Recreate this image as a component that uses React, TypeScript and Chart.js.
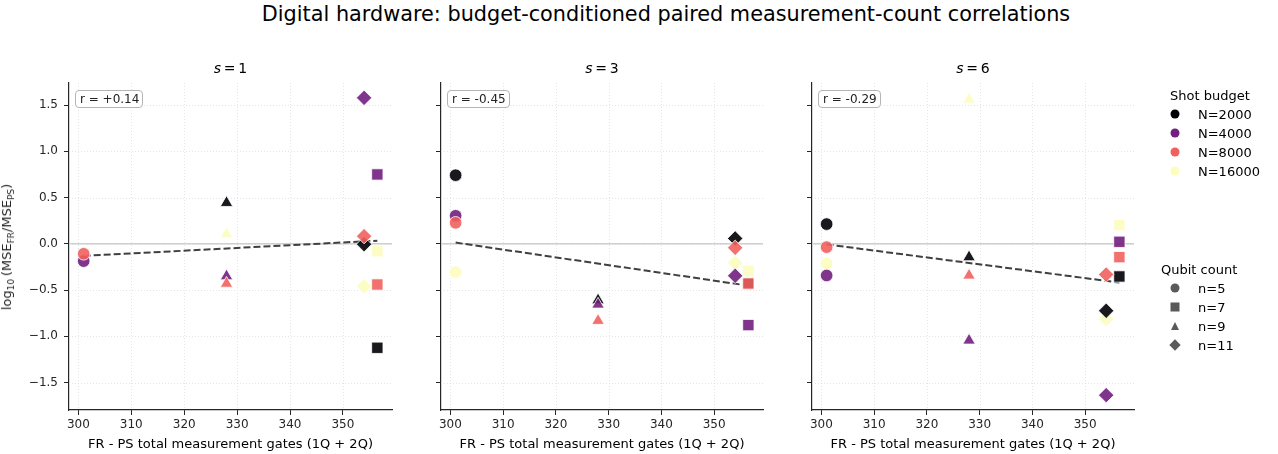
import React, { useEffect, useRef } from 'react';
import { Chart, registerables } from 'chart.js';

Chart.register(...registerables);

const FONT = "'DejaVu Sans', sans-serif";

// ---------- data ----------
const SUPTITLE = 'Digital hardware: budget-conditioned paired measurement-count correlations';
const X_LABEL = 'FR - PS total measurement gates (1Q + 2Q)';
const S_VALUES = [1, 3, 6];
const R_LABELS = ['r = +0.14', 'r = -0.45', 'r = -0.29'];
const BUDGET_LABELS = ['N=2000', 'N=4000', 'N=8000', 'N=16000'];
const QUBIT_LABELS = ['n=5', 'n=7', 'n=9', 'n=11'];
// FR - PS measurement gate difference per qubit count (n=5, 7, 9, 11)
const GATE_DIFF = [301, 356.5, 328, 354];
const X_TICKS = [300, 310, 320, 330, 340, 350];
const Y_TICKS = [-1.5, -1.0, -0.5, 0.0, 0.5, 1.0, 1.5];

// log10(MSE_FR / MSE_PS), indexed by qubit count (n=5, 7, 9, 11)
const S1_N2000 = [null, -1.124, 0.443, -0.004];
const S1_N4000 = [-0.187, 0.75, -0.35, 1.578];
const S1_N8000 = [-0.108, -0.44, -0.43, 0.083];
const S1_N16000 = [null, -0.08, 0.105, -0.458];

const S3_N2000 = [0.742, -0.43, -0.61, 0.058];
const S3_N4000 = [0.303, -0.879, -0.656, -0.346];
const S3_N8000 = [0.227, -0.429, -0.832, -0.043];
const S3_N16000 = [-0.306, -0.292, -0.64, -0.205];

const S6_N2000 = [0.213, -0.353, -0.144, -0.724];
const S6_N4000 = [-0.342, 0.022, -1.045, -1.636];
const S6_N8000 = [-0.036, -0.144, -0.342, -0.332];
const S6_N16000 = [-0.213, 0.202, 1.56, -0.814];

const PANEL_DATA = [
  [S1_N2000, S1_N4000, S1_N8000, S1_N16000],
  [S3_N2000, S3_N4000, S3_N8000, S3_N16000],
  [S6_N2000, S6_N4000, S6_N8000, S6_N16000],
];

// ---------- style ----------
const BUDGET_RGB = [
  [0, 0, 4],
  [114, 31, 129],
  [241, 96, 93],
  [252, 253, 191],
];
const DRAW_ORDER = [3, 2, 1, 4]; // lower = on top (string-sorted plotting order)
const QUBIT_STYLES = ['circle', 'rect', 'triangle', 'rectRot'];
const QUBIT_RADII = [6.3, 8, 7.2, 7.7];

const PANELS = [
  { L: 69, R: 392 },
  { L: 441, R: 763 },
  { L: 812, R: 1134 },
];
const TOP = 83;
const BOTTOM = 410;
const CANVAS_TOP = 40;
const Y_AXIS_W = 60;
const RIGHT_PAD = 10;
const INK = '#262626';

function allValues() {
  const out: number[] = [];
  PANEL_DATA.forEach((p) => p.forEach((s) => s.forEach((v) => { if (v != null) out.push(v as number); })));
  return out;
}
const ALL_Y = allValues();
const Y_MIN_D = Math.min(...ALL_Y);
const Y_MAX_D = Math.max(...ALL_Y);
const Y_PAD = (Y_MAX_D - Y_MIN_D) * 0.05;
const X_MIN_D = Math.min(...GATE_DIFF);
const X_MAX_D = Math.max(...GATE_DIFF);
const X_PAD = (X_MAX_D - X_MIN_D) * 0.05;

function fmtY(v: number) {
  const s = Math.abs(v).toFixed(1);
  return v < -1e-9 ? '\u2212' + s : s;
}

function regression(panel: (number | null)[][]) {
  const xs: number[] = [];
  const ys: number[] = [];
  panel.forEach((series) => series.forEach((v, q) => {
    if (v != null) { xs.push(GATE_DIFF[q]); ys.push(v as number); }
  }));
  const n = xs.length;
  const mx = xs.reduce((a, b) => a + b, 0) / n;
  const my = ys.reduce((a, b) => a + b, 0) / n;
  let sxy = 0, sxx = 0;
  for (let i = 0; i < n; i++) { sxy += (xs[i] - mx) * (ys[i] - my); sxx += (xs[i] - mx) ** 2; }
  const b = sxy / sxx;
  const a = my - b * mx;
  const x0 = Math.min(...xs), x1 = Math.max(...xs);
  return [{ x: x0, y: a + b * x0 }, { x: x1, y: a + b * x1 }];
}

const backgroundPlugin = {
  id: 'bgLines',
  beforeDatasetsDraw(chart: any) {
    const { ctx, chartArea, scales } = chart;
    const xs = scales.x, ys = scales.y;
    ctx.save();
    ctx.lineWidth = 0.8;
    ctx.strokeStyle = '#dedede';
    ctx.setLineDash([1, 2]);
    X_TICKS.forEach((t) => {
      const px = Math.round(xs.getPixelForValue(t)) + 0.5;
      ctx.beginPath(); ctx.moveTo(px, chartArea.top); ctx.lineTo(px, chartArea.bottom); ctx.stroke();
    });
    Y_TICKS.forEach((t) => {
      const py = Math.round(ys.getPixelForValue(t)) + 0.5;
      ctx.beginPath(); ctx.moveTo(chartArea.left, py); ctx.lineTo(chartArea.right, py); ctx.stroke();
    });
    ctx.setLineDash([]);
    ctx.strokeStyle = '#cfcfcf';
    ctx.lineWidth = 1.6;
    const z = ys.getPixelForValue(0);
    ctx.beginPath(); ctx.moveTo(chartArea.left, z); ctx.lineTo(chartArea.right, z); ctx.stroke();
    ctx.restore();
  },
};

function Panel({ idx }: { idx: number }) {
  const ref = useRef<HTMLCanvasElement | null>(null);
  const { L, R } = PANELS[idx];
  const width = R - L + Y_AXIS_W + RIGHT_PAD;
  const height = 454 - CANVAS_TOP;

  useEffect(() => {
    if (!ref.current) return;
    const panel = PANEL_DATA[idx];
    const datasets: any[] = [];
    panel.forEach((series, b) => {
      const pts: any[] = [];
      const styles: string[] = [];
      const radii: number[] = [];
      series.forEach((v, q) => {
        if (v == null) return;
        pts.push({ x: GATE_DIFF[q], y: v });
        styles.push(QUBIT_STYLES[q]);
        radii.push(QUBIT_RADII[q]);
      });
      const [r, g, bl] = BUDGET_RGB[b];
      datasets.push({
        type: 'scatter',
        label: BUDGET_LABELS[b],
        data: pts,
        pointStyle: styles,
        pointRadius: radii,
        pointHoverRadius: radii,
        pointBackgroundColor: `rgba(${r},${g},${bl},0.9)`,
        pointBorderColor: '#ffffff',
        pointBorderWidth: 0.8,
        order: DRAW_ORDER[b],
      });
    });
    datasets.push({
      type: 'line',
      label: 'fit',
      data: regression(panel),
      borderColor: '#404040',
      borderWidth: 2,
      borderDash: [7, 3],
      pointRadius: 0,
      fill: false,
      order: 10,
    });

    const chart = new Chart(ref.current, {
      type: 'scatter',
      data: { datasets },
      options: {
        animation: false,
        responsive: false,
        events: [],
        layout: { autoPadding: false, padding: { top: TOP - CANVAS_TOP, right: RIGHT_PAD, bottom: 0, left: 0 } },
        plugins: { legend: { display: false }, tooltip: { enabled: false }, title: { display: false } },
        scales: {
          x: {
            type: 'linear',
            position: 'bottom',
            min: X_MIN_D - X_PAD,
            max: X_MAX_D + X_PAD,
            afterBuildTicks: (s: any) => { s.ticks = X_TICKS.map((v) => ({ value: v })); },
            afterFit: (s: any) => { s.height = 454 - BOTTOM; },
            grid: { drawOnChartArea: false, drawTicks: true, tickLength: 5, tickColor: INK, tickWidth: 1 },
            border: { display: true, color: INK, width: 1.2 },
            ticks: {
              autoSkip: false, maxRotation: 0, color: INK, padding: 3,
              font: { size: 12, family: FONT },
              callback: (v: any) => String(v),
            },
          },
          y: {
            type: 'linear',
            position: 'left',
            min: Y_MIN_D - Y_PAD,
            max: Y_MAX_D + Y_PAD,
            afterBuildTicks: (s: any) => { s.ticks = Y_TICKS.map((v) => ({ value: v })); },
            afterFit: (s: any) => { s.width = Y_AXIS_W; },
            grid: { drawOnChartArea: false, drawTicks: true, tickLength: 5, tickColor: INK, tickWidth: 1 },
            border: { display: true, color: INK, width: 1.2 },
            ticks: {
              autoSkip: false, color: INK, padding: 6,
              font: { size: 12, family: FONT },
              callback: (v: any) => (idx === 0 ? fmtY(Number(v)) : ''),
            },
          },
        },
      },
      plugins: [backgroundPlugin],
    } as any);
    return () => chart.destroy();
  }, [idx]);

  return (
    <canvas
      ref={ref}
      width={width}
      height={height}
      style={{ position: 'absolute', left: L - Y_AXIS_W, top: CANVAS_TOP, width, height }}
    />
  );
}

const textBase: React.CSSProperties = {
  position: 'absolute',
  fontFamily: FONT,
  color: '#000',
  whiteSpace: 'nowrap',
  lineHeight: 1,
};

function LegendMarker({ shape, color, x, y }: { shape: string; color: string; x: number; y: number }) {
  const common: React.CSSProperties = { position: 'absolute', left: x, top: y, transform: 'translate(-50%,-50%)' };
  if (shape === 'circle') return <div style={{ ...common, width: 9, height: 9, borderRadius: '50%', background: color }} />;
  if (shape === 'rect') return <div style={{ ...common, width: 9, height: 9, background: color }} />;
  if (shape === 'triangle')
    return (
      <div style={{ ...common, width: 0, height: 0, borderLeft: '4.5px solid transparent', borderRight: '4.5px solid transparent', borderBottom: `8px solid ${color}` }} />
    );
  return <div style={{ ...common, width: 8, height: 8, background: color, transform: 'translate(-50%,-50%) rotate(45deg)' }} />;
}

export default function App() {
  const budgetY = [114.3, 133.3, 152.3, 171];
  const qubitY = [288, 307, 326, 345];
  return (
    <div style={{ position: 'absolute', left: 0, top: 0, width: 1278, height: 454, background: '#fff', overflow: 'hidden' }}>
      <div style={{ ...textBase, fontSize: 20.8, left: 666, top: 14, transform: 'translate(-50%,-50%)' }}>{SUPTITLE}</div>

      {PANELS.map((p, i) => (
        <Panel key={'c' + i} idx={i} />
      ))}

      {PANELS.map((p, i) => (
        <div key={'t' + i} style={{ ...textBase, fontSize: 14, left: (p.L + p.R) / 2, top: 67.5, transform: 'translate(-50%,-50%)' }}>
          <i>s</i>&thinsp;=&thinsp;{S_VALUES[i]}
        </div>
      ))}

      {PANELS.map((p, i) => (
        <div key={'x' + i} style={{ ...textBase, fontSize: 13, left: (p.L + p.R) / 2, top: 443, transform: 'translate(-50%,-50%)' }}>
          {X_LABEL}
        </div>
      ))}

      {PANELS.map((p, i) => (
        <div
          key={'r' + i}
          style={{
            ...textBase,
            fontSize: 12,
            lineHeight: '12px',
            left: p.L + 6,
            top: 90,
            padding: '2px 3px 2px 4px',
            border: '1px solid #b5b5b5',
            borderRadius: 4,
            background: 'rgba(255,255,255,0.9)',
            color: '#222',
          }}
        >
          {R_LABELS[i]}
        </div>
      ))}

      <div
        style={{
          ...textBase,
          fontSize: 13,
          left: 7.5,
          top: 246.5,
          transform: 'translate(-50%,-50%) rotate(-90deg)',
          color: INK,
        }}
      >
        log<sub style={{ fontSize: 9, verticalAlign: '-3px' }}>10</sub>&thinsp;(MSE
        <sub style={{ fontSize: 9, verticalAlign: '-3px' }}>FR</sub>/MSE
        <sub style={{ fontSize: 9, verticalAlign: '-3px' }}>PS</sub>)
      </div>

      {/* legend: shot budget */}
      <div style={{ ...textBase, fontSize: 13, left: 1170, top: 95, transform: 'translateY(-50%)' }}>Shot budget</div>
      {BUDGET_LABELS.map((lab, b) => {
        const [r, g, bl] = BUDGET_RGB[b];
        return (
          <React.Fragment key={'b' + b}>
            <LegendMarker shape="circle" color={`rgb(${r},${g},${bl})`} x={1175} y={budgetY[b]} />
            <div style={{ ...textBase, fontSize: 13, left: 1198, top: budgetY[b], transform: 'translateY(-50%)' }}>{lab}</div>
          </React.Fragment>
        );
      })}

      {/* legend: qubit count */}
      <div style={{ ...textBase, fontSize: 13, left: 1161, top: 269, transform: 'translateY(-50%)' }}>Qubit count</div>
      {QUBIT_LABELS.map((lab, q) => (
        <React.Fragment key={'q' + q}>
          <LegendMarker shape={QUBIT_STYLES[q]} color="#5a5a5a" x={1175} y={qubitY[q]} />
          <div style={{ ...textBase, fontSize: 13, left: 1198, top: qubitY[q], transform: 'translateY(-50%)' }}>{lab}</div>
        </React.Fragment>
      ))}
    </div>
  );
}
